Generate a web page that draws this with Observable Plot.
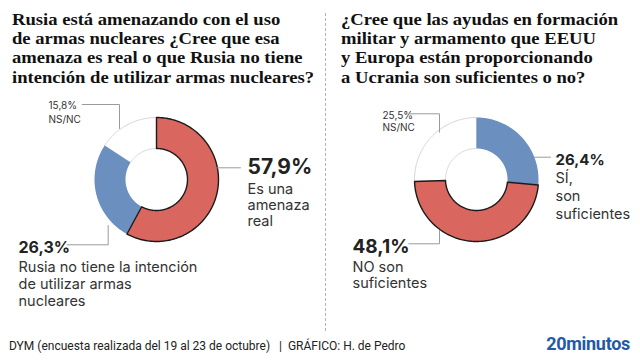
<!DOCTYPE html>
<html>
<head>
<meta charset="utf-8">
<script src="https://cdn.jsdelivr.net/npm/d3@7"></script>
<script src="https://cdn.jsdelivr.net/npm/@observablehq/plot@0.6"></script>
<style>
  html, body { margin: 0; padding: 0; background: #fff; }
  #page { position: relative; width: 640px; height: 360px; background: #fff; overflow: hidden; }
  .title { position: absolute; top: 9.6px; font-family: "Liberation Serif", serif; font-weight: bold;
           font-size: 17.5px; line-height: 19.4px; color: #111; white-space: nowrap;
           transform: scaleX(1.063); transform-origin: 0 0; }
  .chart { position: absolute; top: 92px; width: 320px; height: 220px; }
  #divider { position: absolute; left: 325px; top: 13px; height: 318px; border-left: 1px dashed #b5b5b5; }
  #footer { position: absolute; left: 9px; top: 338px; font-family: Roboto, sans-serif; font-size: 12px;
            color: #222; white-space: nowrap; line-height: 16px; }
  #logo { position: absolute; right: 10px; top: 333px; font-family: Roboto, sans-serif; font-weight: bold;
          font-size: 18px; color: #1f5aa6; line-height: 22px; letter-spacing: -0.3px; }
</style>
</head>
<body>
<div id="page">
  <div class="title" style="left:12px">Rusia está amenazando con el uso<br>de armas nucleares ¿Cree que esa<br>amenaza es real o que Rusia no tiene<br>intención de utilizar armas nucleares?</div>
  <div class="title" style="left:341px">¿Cree que las ayudas en formación<br>militar y armamento que EEUU<br>y Europa están proporcionando<br>a Ucrania son suficientes o no?</div>
  <div id="divider"></div>
  <div id="chartLeft" class="chart" style="left:0px"></div>
  <div id="chartRight" class="chart" style="left:320px"></div>
  <div id="footer">DYM (encuesta realizada del 19 al 23 de octubre) &nbsp;&nbsp;| &nbsp;GRÁFICO: H. de Pedro</div>
  <div id="logo">20minutos</div>
</div>
<script>
// ---- Data ----
const leftCategories = ["Es una amenaza real", "Rusia no tiene la intención de utilizar armas nucleares", "NS/NC"];
const leftValues = [57.9, 26.3, 15.8];
const leftPctLabels = ["57,9%", "26,3%", "15,8%"];
const leftTextLabels = ["Es una\namenaza\nreal", "Rusia no tiene la intención\nde utilizar armas\nnucleares", "NS/NC"];

const rightCategories = ["SÍ, son suficientes", "NO son suficientes", "NS/NC"];
const rightValues = [26.4, 48.1, 25.5];
const rightPctLabels = ["26,4%", "48,1%", "25,5%"];
const rightTextLabels = ["SÍ,\nson\nsuficientes", "NO son\nsuficientes", "NS/NC"];

// ---- Styling ----
const RED = "#d9675f", BLUE = "#6b8fbf", WHITE = "#ffffff";
const OUTER = 62, INNER = 31;

function slicePoints(a0, a1) {
  const n = Math.max(2, Math.ceil((a1 - a0) / 0.02));
  const pts = [];
  for (let i = 0; i <= n; i++) {
    const a = a0 + (a1 - a0) * i / n;
    pts.push({x: OUTER * Math.sin(a), y: OUTER * Math.cos(a)});
  }
  for (let i = n; i >= 0; i--) {
    const a = a0 + (a1 - a0) * i / n;
    pts.push({x: INNER * Math.sin(a), y: INNER * Math.cos(a)});
  }
  pts.push(pts[0]);
  return pts;
}

function donut(el, categories, values, sliceStyles, labels, leaders) {
  const arcs = d3.pie().sort(null).value(d => d.value)(categories.map((c, i) => ({c, value: values[i]})));
  const sliceMarks = [];
  const order = sliceStyles.map((s, i) => i).sort((a, b) => sliceStyles[a].z - sliceStyles[b].z);
  for (const i of order) {
    const s = sliceStyles[i];
    sliceMarks.push(Plot.line(slicePoints(arcs[i].startAngle, arcs[i].endAngle), {
      x: "x", y: "y", fill: s.fill, stroke: s.stroke, strokeWidth: s.strokeWidth, strokeLinejoin: "round", curve: "linear"
    }));
  }
  const leaderMarks = leaders.map(l => Plot.line(l, {x: d => d[0], y: d => d[1], stroke: "#9a9a9a", strokeWidth: 1}));
  const textMarks = labels.map(t => Plot.text([t], {
    x: "x", y: "y", text: "text", textAnchor: "start", lineAnchor: "middle",
    fontSize: t.size, fontWeight: t.weight, lineHeight: t.lh || 1, fill: t.color,
    fontFamily: "Inter, 'Noto Sans', sans-serif"
  }));
  const plot = Plot.plot({
    width: 320, height: 220, margin: 0,
    x: {domain: [-156, 164], axis: null},
    y: {domain: [-133, 87], axis: null},
    style: {background: "transparent", overflow: "visible"},
    marks: [...sliceMarks, ...leaderMarks, ...textMarks]
  });
  el.appendChild(plot);
}

// Left donut
donut(document.getElementById("chartLeft"), leftCategories, leftValues,
  [
    {fill: RED, stroke: "#1b1b1b", strokeWidth: 1.4, z: 2},
    {fill: BLUE, stroke: "none", strokeWidth: 0, z: 1},
    {fill: WHITE, stroke: "#d5d5d5", strokeWidth: 1, z: 0}
  ],
  [
    {x: 91, y: 12, text: leftPctLabels[0], size: 21, weight: "bold", color: "#222"},
    {x: 91, y: -25.5, text: leftTextLabels[0], size: 14.5, weight: "normal", color: "#333", lh: 1.1},
    {x: -138, y: -68.5, text: leftPctLabels[1], size: 16, weight: "bold", color: "#222"},
    {x: -138, y: -104.5, text: leftTextLabels[1], size: 14.5, weight: "normal", color: "#333", lh: 1.17},
    {x: -108, y: 68, text: leftPctLabels[2] + "\n" + leftTextLabels[2], size: 10, weight: "normal", color: "#333", lh: 1.35}
  ],
  [
    [[60.7, 11.7], [84, 11.7]],
    [[-89.3, -65.3], [-48.3, -65.3], [-48.3, -46]],
    [[-74.3, 75], [-37, 75], [-37, 51]]
  ]
);

// Right donut
donut(document.getElementById("chartRight"), rightCategories, rightValues,
  [
    {fill: BLUE, stroke: "none", strokeWidth: 0, z: 1},
    {fill: RED, stroke: "#1b1b1b", strokeWidth: 1.4, z: 2},
    {fill: WHITE, stroke: "#d5d5d5", strokeWidth: 1, z: 0}
  ],
  [
    {x: 79, y: 19, text: rightPctLabels[0], size: 15, weight: "bold", color: "#222"},
    {x: 79, y: -16, text: rightTextLabels[0], size: 14.5, weight: "normal", color: "#333", lh: 1.22},
    {x: -124, y: -67.2, text: rightPctLabels[1], size: 19, weight: "bold", color: "#222"},
    {x: -124, y: -95.5, text: rightTextLabels[1], size: 14.5, weight: "normal", color: "#333", lh: 1.12},
    {x: -94, y: 58.7, text: rightPctLabels[2] + "\n" + rightTextLabels[2], size: 10, weight: "normal", color: "#333", lh: 1.27}
  ],
  [
    [[57.3, 22.3], [74, 22.3]],
    [[-67.7, -64.3], [-37, -64.3], [-37, -51]],
    [[-66, 65.7], [-37, 65.7], [-37, 47.3]]
  ]
);
</script>
</body>
</html>
